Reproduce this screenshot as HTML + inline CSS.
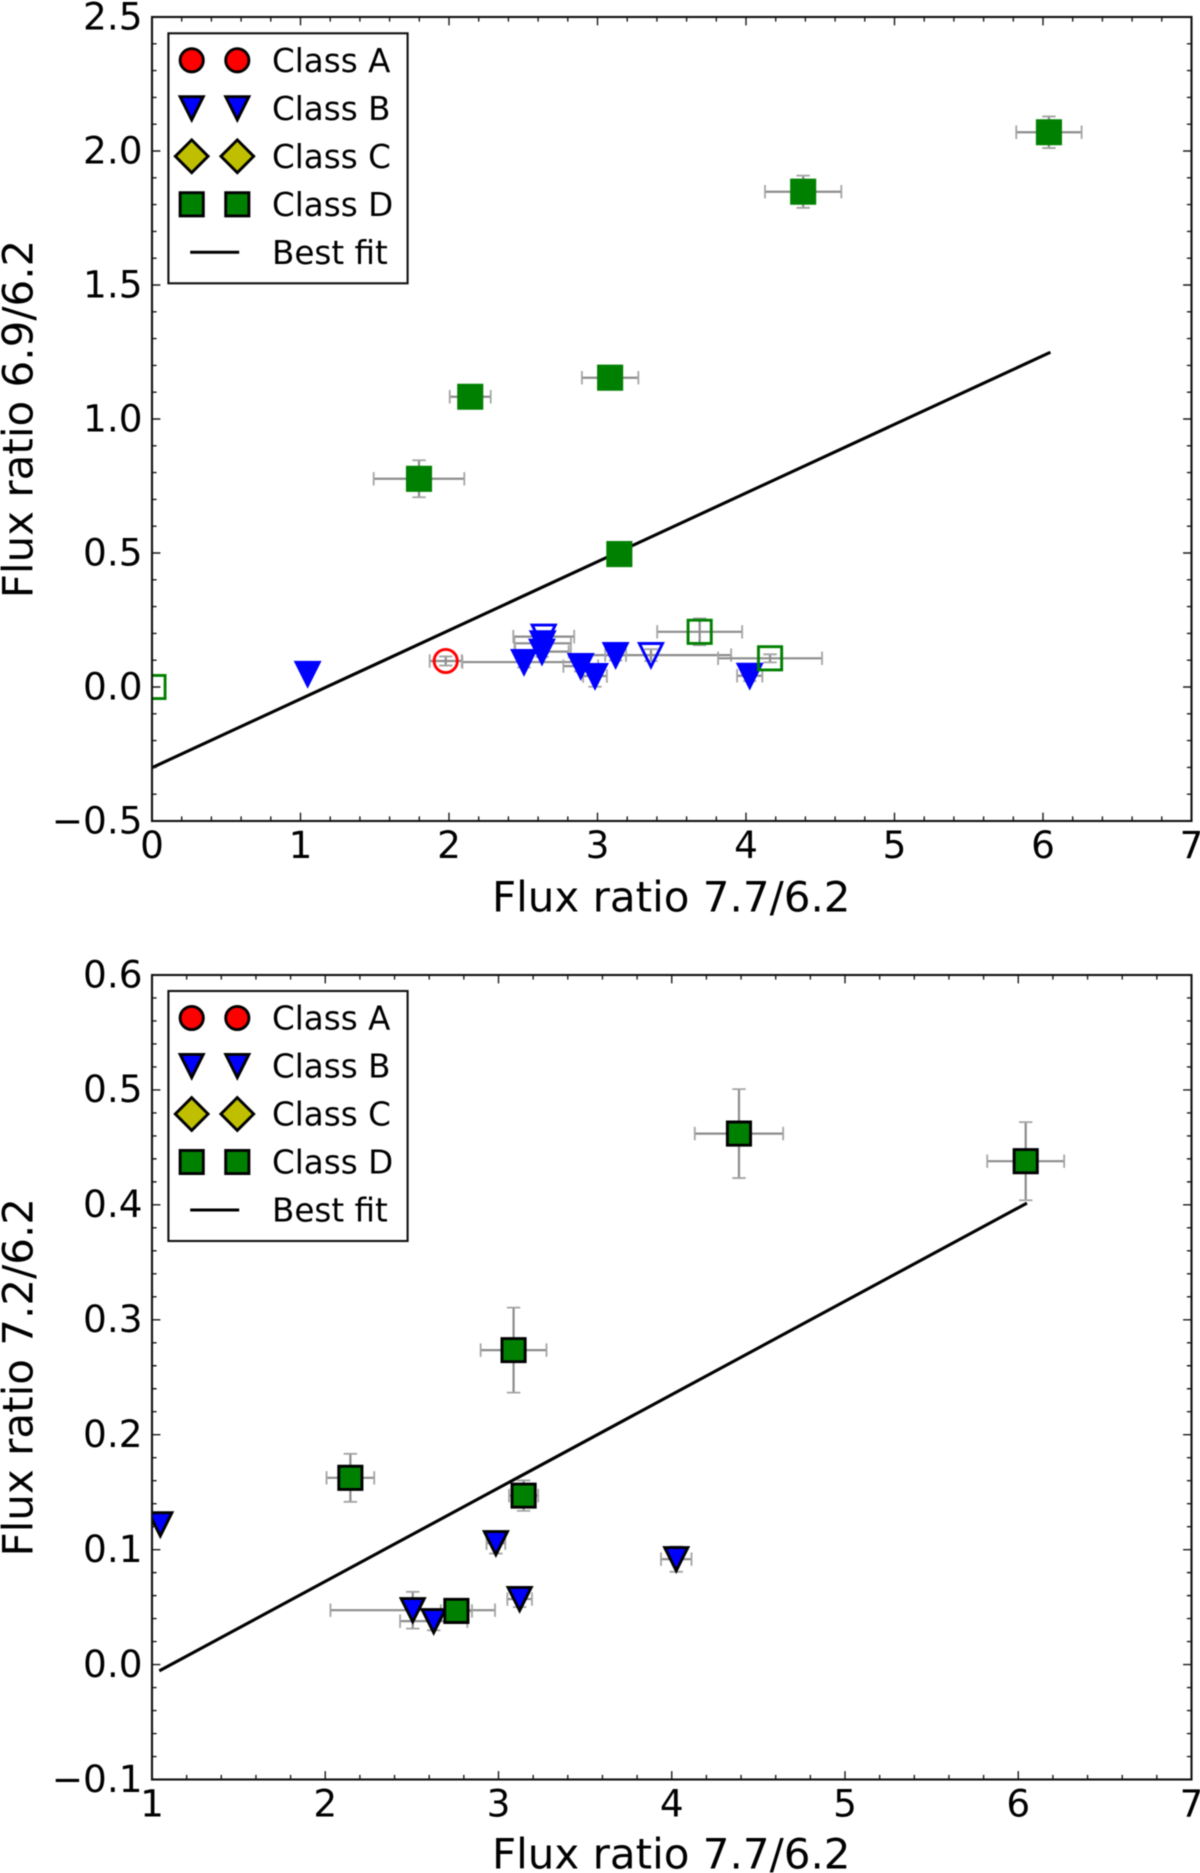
<!DOCTYPE html>
<html lang="en">
<head>
<meta charset="utf-8">
<title>Flux ratio charts</title>
<style>
html,body{margin:0;padding:0;background:#fff;}
#stage{display:block;width:1200px;height:1873px;filter:blur(0.45px);}
text{font-family:"DejaVu Sans","Liberation Sans",sans-serif;fill:#000;}
</style>
</head>
<body>
<svg id="stage" xmlns="http://www.w3.org/2000/svg" width="1200" height="1873" viewBox="0 0 1200 1873"></svg>
<script>
/* ---------- shared axis data ---------- */
const legendLabels = ['Class A', 'Class B', 'Class C', 'Class D', 'Best fit'];
const xAxisTitle = 'Flux ratio 7.7/6.2';

/* ---------- top panel data ---------- */
const topXTicks = [0, 1, 2, 3, 4, 5, 6, 7];
const topXTickLabels = ['0', '1', '2', '3', '4', '5', '6', '7'];
const topYTicks = [-0.5, 0, 0.5, 1, 1.5, 2, 2.5];
const topYTickLabels = ['\u22120.5', '0.0', '0.5', '1.0', '1.5', '2.0', '2.5'];
const topYTitle = 'Flux ratio 6.9/6.2';
const topFitX = [0, 6.05];
const topFitY = [-0.301, 1.249];

const topClassDX = [6.04, 4.385, 3.085, 2.143, 1.798, 3.147];
const topClassDY = [2.07, 1.848, 1.154, 1.083, 0.777, 0.496];
const topClassDXErr = [0.22, 0.257, 0.19, 0.138, 0.305, 0];
const topClassDYErr = [0.059, 0.06, 0.03, 0.03, 0.069, 0];

const topOpenDX = [3.688, 4.162, 0.01];
const topOpenDY = [0.206, 0.107, 0];
const topOpenDXErr = [0.286, 0.35, 0];
const topOpenDYErr = [0.05, 0.015, 0];

const topOpenAX = [1.978];
const topOpenAY = [0.097];
const topOpenAXErr = [0.108];
const topOpenAYErr = [0.017];

const topClassBX = [1.048, 2.505, 2.631, 2.626, 2.887, 2.983, 3.122, 4.025];
const topClassBY = [0.049, 0.093, 0.163, 0.132, 0.078, 0.041, 0.119, 0.042];
const topClassBXErr = [0, 0.415, 0.19, 0.18, 0.117, 0.08, 0.07, 0.085];
const topClassBYErr = [0, 0.02, 0.02, 0.02, 0.02, 0.04, 0.02, 0.02];

const topOpenBX = [2.638, 3.36];
const topOpenBY = [0.188, 0.119];
const topOpenBXErr = [0.205, 0.54];
const topOpenBYErr = [0.02, 0.022];

/* ---------- bottom panel data ---------- */
const bottomXTicks = [1, 2, 3, 4, 5, 6, 7];
const bottomXTickLabels = ['1', '2', '3', '4', '5', '6', '7'];
const bottomYTicks = [-0.1, 0, 0.1, 0.2, 0.3, 0.4, 0.5, 0.6];
const bottomYTickLabels = ['\u22120.1', '0.0', '0.1', '0.2', '0.3', '0.4', '0.5', '0.6'];
const bottomYTitle = 'Flux ratio 7.2/6.2';
const bottomFitX = [1.042, 6.05];
const bottomFitY = [-0.0055, 0.4015];

const bottomClassDX = [4.388, 6.043, 3.087, 2.145, 3.145, 2.757];
const bottomClassDY = [0.462, 0.438, 0.2736, 0.1625, 0.147, 0.0467];
const bottomClassDXErr = [0.255, 0.222, 0.19, 0.1376, 0.084, 0.09];
const bottomClassDYErr = [0.0387, 0.034, 0.037, 0.0209, 0.0133, 0.01];

const bottomClassBX = [1.048, 2.505, 2.626, 2.985, 3.122, 4.026];
const bottomClassBY = [0.122, 0.0473, 0.0378, 0.1056, 0.057, 0.0917];
const bottomClassBXErr = [0, 0.475, 0.194, 0.054, 0.071, 0.088];
const bottomClassBYErr = [0, 0.016, 0.008, 0.009, 0.007, 0.011];

/* ---------- drawing helpers ---------- */
const SVGNS = 'http://www.w3.org/2000/svg';
const stage = document.getElementById('stage');
const LEFT = 152, RIGHT = 1191.5;
const TRI = 11.6, SQ = 11.6, EDGE = 2.9;

function el(tag, attrs, parent) {
  const node = document.createElementNS(SVGNS, tag);
  for (const k in attrs) node.setAttribute(k, attrs[k]);
  parent.appendChild(node);
  return node;
}

function scale(d0, d1, r0, r1) {
  return function (v) { return r0 + (v - d0) * (r1 - r0) / (d1 - d0); };
}

function markerShape(kind, cx, cy, fill, stroke, parent) {
  const common = { fill: fill, stroke: stroke, 'stroke-width': EDGE, 'stroke-miterlimit': 10 };
  let d;
  if (kind === 'circle') {
    return el('circle', Object.assign({ cx: cx, cy: cy, r: SQ }, common), parent);
  }
  if (kind === 'triangle') {
    d = 'M' + (cx - TRI) + ' ' + (cy - TRI) + 'L' + (cx + TRI) + ' ' + (cy - TRI) + 'L' + cx + ' ' + (cy + TRI) + 'Z';
  } else if (kind === 'diamond') {
    const h = SQ * 1.414;
    d = 'M' + cx + ' ' + (cy - h) + 'L' + (cx + h) + ' ' + cy + 'L' + cx + ' ' + (cy + h) + 'L' + (cx - h) + ' ' + cy + 'Z';
  } else {
    d = 'M' + (cx - SQ) + ' ' + (cy - SQ) + 'H' + (cx + SQ) + 'V' + (cy + SQ) + 'H' + (cx - SQ) + 'Z';
  }
  return el('path', Object.assign({ d: d }, common), parent);
}

function drawErrors(xs, ys, xe, ye, sx, sy, parent) {
  const CAP = 6.7;
  xs.forEach(function (v, i) {
    const cx = sx(v), cy = sy(ys[i]);
    const g = el('g', { stroke: '#8c8c8c', 'stroke-width': 2.2, fill: 'none' }, parent);
    
    
    if (xe[i] > 0) {
      const a = sx(v - xe[i]), b = sx(v + xe[i]);
      el('path', { d: 'M' + a + ' ' + cy + 'H' + b }, g);
      el('path', { d: 'M' + a + ' ' + (cy - CAP) + 'V' + (cy + CAP) + 'M' + b + ' ' + (cy - CAP) + 'V' + (cy + CAP), stroke: '#a4a4a4', 'stroke-width': 1.8 }, g);
    }
    if (ye[i] > 0) {
      const a = sy(ys[i] + ye[i]), b = sy(ys[i] - ye[i]);
      el('path', { d: 'M' + cx + ' ' + a + 'V' + b }, g);
      el('path', { d: 'M' + (cx - CAP) + ' ' + a + 'H' + (cx + CAP) + 'M' + (cx - CAP) + ' ' + b + 'H' + (cx + CAP), stroke: '#a4a4a4', 'stroke-width': 1.8 }, g);
    }
  });
}

function drawMarkers(kind, xs, ys, fill, stroke, name, sx, sy, parent) {
  xs.forEach(function (v, i) {
    const m = markerShape(kind, sx(v), sy(ys[i]), fill, stroke, parent);
    
    
  });
}

function drawFit(xs, ys, sx, sy, parent) {
  const pts = xs.map(function (v, i) { return sx(v) + ',' + sy(ys[i]); }).join(' ');
  const line = el('polyline', { points: pts, fill: 'none', stroke: '#000', 'stroke-width': 3.1 }, parent);
  
  
}

function drawFrame(top, bottom, sx, sy, xTicks, xLabels, yTicks, yLabels, yTitle, xTitleBase, parent) {
  const MAJ = 8.4, MIN = 4.6;
  const ticks = el('g', { stroke: '#1a1a1a', 'stroke-width': 1.4, fill: 'none' }, parent);
  
  
  let d = '';
  const xMinorStep = (xTicks[1] - xTicks[0]) / 5;
  const yMinorStep = (yTicks[1] - yTicks[0]) / 5;
  xTicks.forEach(function (t, i) {
    for (let k = 0; k < 5; k++) {
      if (i === xTicks.length - 1 && k > 0) break;
      const len = k === 0 ? MAJ : MIN;
      const px = sx(t + k * xMinorStep);
      d += 'M' + px + ' ' + bottom + 'v' + (-len) + 'M' + px + ' ' + top + 'v' + len;
    }
  });
  yTicks.forEach(function (t, i) {
    for (let k = 0; k < 5; k++) {
      if (i === yTicks.length - 1 && k > 0) break;
      const len = k === 0 ? MAJ : MIN;
      const py = sy(t + k * yMinorStep);
      d += 'M' + LEFT + ' ' + py + 'h' + len + 'M' + RIGHT + ' ' + py + 'h' + (-len);
    }
  });
  el('path', { d: d }, ticks);

  const frame = el('rect', { x: LEFT, y: top, width: RIGHT - LEFT, height: bottom - top, fill: 'none', stroke: '#111', 'stroke-width': 2.1 }, parent);
  
  

  xTicks.forEach(function (t, i) {
    const lab = el('text', { x: sx(t), y: bottom + 37, 'text-anchor': 'middle', 'font-size': 37.4 }, parent);
    lab.textContent = xLabels[i];
    
    
  });
  yTicks.forEach(function (t, i) {
    const lab = el('text', { x: 142.5, y: sy(t) + 12.3, 'text-anchor': 'end', 'font-size': 37.4 }, parent);
    lab.textContent = yLabels[i];
    
    
  });

  const xt = el('text', { x: (LEFT + RIGHT) / 2 - 0.5, y: xTitleBase, 'text-anchor': 'middle', 'font-size': 42 }, parent);
  xt.textContent = xAxisTitle;
  
  

  const cy = (top + bottom) / 2;
  const yt = el('text', { x: 0, y: 0, transform: 'translate(32.5 ' + cy + ') rotate(-90)', 'text-anchor': 'middle', 'font-size': 42 }, parent);
  yt.textContent = yTitle;
  
  
}

function drawLegend(boxTop, parent) {
  const group = el('g', {}, parent);
  
  
  const box = el('rect', { x: 168.4, y: boxTop, width: 239.2, height: 250, fill: '#fff', stroke: '#111', 'stroke-width': 2.1 }, group);
  
  
  const kinds = ['circle', 'triangle', 'diamond', 'square'];
  const fills = ['#ff0000', '#0000ff', '#bfbf00', '#008000'];
  legendLabels.forEach(function (label, i) {
    const cy = boxTop + 27 + i * 48;
    const entry = el('g', {}, group);
    
    
    if (i < 4) {
      markerShape(kinds[i], 191.7, cy, fills[i], '#000', entry);
      markerShape(kinds[i], 237.3, cy, fills[i], '#000', entry);
    } else {
      el('path', { d: 'M190.2 ' + cy + 'H239.2', stroke: '#000', 'stroke-width': 3, fill: 'none' }, entry);
    }
    const t = el('text', { x: 272, y: cy + 11.7, 'font-size': 32.6 }, entry);
    t.textContent = label;
  });
}

function makePlot(name, clipId, top, bottom) {
  const g = el('g', {}, stage);
  
  
  const defs = el('defs', {}, g);
  const clip = el('clipPath', { id: clipId }, defs);
  el('rect', { x: LEFT, y: top, width: RIGHT - LEFT, height: bottom - top }, clip);
  const data = el('g', { 'clip-path': 'url(#' + clipId + ')' }, g);
  
  
  return { root: g, data: data };
}

/* ---------- top panel ---------- */
(function () {
  const top = 17, bottom = 821;
  const sx = scale(0, 7, LEFT, RIGHT);
  const sy = scale(-0.5, 2.5, bottom, top);
  const p = makePlot('flux-ratio-6-9-panel', 'clip-top', top, bottom);
  drawFit(topFitX, topFitY, sx, sy, p.data);
  drawErrors(topOpenAX, topOpenAY, topOpenAXErr, topOpenAYErr, sx, sy, p.data);
  drawErrors(topOpenBX, topOpenBY, topOpenBXErr, topOpenBYErr, sx, sy, p.data);
  drawErrors(topClassBX, topClassBY, topClassBXErr, topClassBYErr, sx, sy, p.data);
  drawErrors(topOpenDX, topOpenDY, topOpenDXErr, topOpenDYErr, sx, sy, p.data);
  drawErrors(topClassDX, topClassDY, topClassDXErr, topClassDYErr, sx, sy, p.data);
  drawMarkers('circle', topOpenAX, topOpenAY, 'none', '#ff0000', 'class-a-open-point', sx, sy, p.data);
  drawMarkers('triangle', topOpenBX, topOpenBY, 'none', '#0000ff', 'class-b-open-point', sx, sy, p.data);
  drawMarkers('triangle', topClassBX, topClassBY, '#0000ff', '#0000ff', 'class-b-point', sx, sy, p.data);
  drawMarkers('square', topOpenDX, topOpenDY, 'none', '#008000', 'class-d-open-point', sx, sy, p.data);
  drawMarkers('square', topClassDX, topClassDY, '#008000', '#008000', 'class-d-point', sx, sy, p.data);
  drawFrame(top, bottom, sx, sy, topXTicks, topXTickLabels, topYTicks, topYTickLabels, topYTitle, 911.5, p.root);
  drawLegend(33.3, p.root);
})();

/* ---------- bottom panel ---------- */
(function () {
  const top = 975, bottom = 1779.5;
  const sx = scale(1, 7, LEFT, RIGHT);
  const sy = scale(-0.1, 0.6, bottom, top);
  const p = makePlot('flux-ratio-7-2-panel', 'clip-bottom', top, bottom);
  drawFit(bottomFitX, bottomFitY, sx, sy, p.data);
  drawErrors(bottomClassBX, bottomClassBY, bottomClassBXErr, bottomClassBYErr, sx, sy, p.data);
  drawErrors(bottomClassDX, bottomClassDY, bottomClassDXErr, bottomClassDYErr, sx, sy, p.data);
  drawMarkers('triangle', bottomClassBX, bottomClassBY, '#0000ff', '#000', 'class-b-point', sx, sy, p.data);
  drawMarkers('square', bottomClassDX, bottomClassDY, '#008000', '#000', 'class-d-point', sx, sy, p.data);
  drawFrame(top, bottom, sx, sy, bottomXTicks, bottomXTickLabels, bottomYTicks, bottomYTickLabels, bottomYTitle, 1868.5, p.root);
  drawLegend(991, p.root);
})();
</script>
</body>
</html>
